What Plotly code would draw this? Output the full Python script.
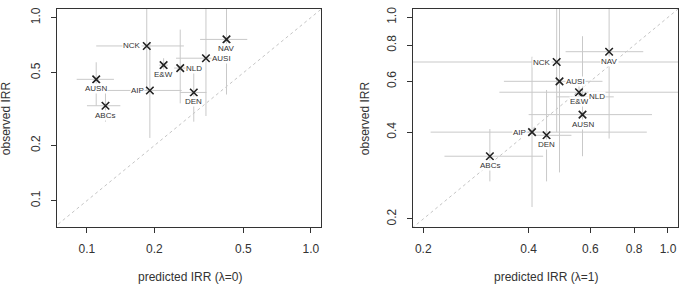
import numpy as np
import plotly.graph_objects as go

sites = ["NCK", "NAV", "AUSI", "E&W", "NLD", "AUSN", "AIP", "DEN", "ABCs"]
label_pos = ["left", "below", "right", "below", "right", "below", "left", "below", "below"]

# observed IRR (same in both panels) with CI
obs = [0.70, 0.76, 0.60, 0.55, 0.53, 0.46, 0.40, 0.39, 0.33]
obs_lo = [0.40, 0.38, 0.29, 0.50, 0.34, 0.33, 0.22, 0.27, 0.27]
obs_hi = [1.50, 1.50, 1.50, 0.60, 0.86, 0.57, 0.73, 0.56, 0.41]

# predicted IRR (lambda = 0)
pred0 = [0.185, 0.42, 0.34, 0.22, 0.261, 0.110, 0.191, 0.30, 0.121]
pred0_lo = [0.110, 0.32, 0.25, 0.21, 0.245, 0.090, 0.116, 0.26, 0.100]
pred0_hi = [0.271, 0.52, 0.40, 0.23, 0.280, 0.132, 0.265, 0.342, 0.141]

# predicted IRR (lambda = 1)
pred1 = [0.481, 0.679, 0.490, 0.557, 0.570, 0.570, 0.409, 0.450, 0.310]
pred1_lo = [0.15, 0.51, 0.34, 0.33, 0.48, 0.40, 0.21, 0.42, 0.23]
pred1_hi = [1.20, 0.85, 0.65, 1.10, 0.70, 0.90, 0.87, 0.53, 0.44]

ticks_left = [0.1, 0.2, 0.5, 1.0]
ticks_right = [0.2, 0.4, 0.6, 0.8, 1.0]
tick_text = lambda v: ["%.1f" % t for t in v]

FONT = "Liberation Sans, Arial, sans-serif"
GRAY = "#c9c9c9"
DARK = "#333333"

fig = go.Figure()

panels = [
    ("x", "y", pred0, pred0_lo, pred0_hi),
    ("x2", "y2", pred1, pred1_lo, pred1_hi),
]

obs_a = np.array(obs)
for xa, ya, px, plo, phi in panels:
    px_a = np.array(px)
    # identity line
    fig.add_trace(go.Scatter(
        x=[0.01, 10], y=[0.01, 10], mode="lines", xaxis=xa, yaxis=ya,
        line=dict(color="#c4c4c4", width=1, dash="dot"), hoverinfo="skip",
        showlegend=False))
    fig.add_trace(go.Scatter(
        x=px, y=obs, mode="markers", xaxis=xa, yaxis=ya, showlegend=False,
        marker=dict(symbol="x-thin", size=7.5, color="#222",
                    line=dict(width=1.6, color="#222")),
        error_x=dict(type="data", symmetric=False,
                     array=list(np.array(phi) - px_a),
                     arrayminus=list(px_a - np.array(plo)),
                     color=GRAY, thickness=1, width=0),
        error_y=dict(type="data", symmetric=False,
                     array=list(np.array(obs_hi) - obs_a),
                     arrayminus=list(obs_a - np.array(obs_lo)),
                     color=GRAY, thickness=1, width=0),
    ))
    for s, pos, xv, yv in zip(sites, label_pos, px, obs):
        kw = dict(x=np.log10(xv), y=np.log10(yv), xref=xa, yref=ya, text=s,
                  showarrow=False, bgcolor="white", borderpad=0,
                  font=dict(family=FONT, size=8, color=DARK))
        if pos == "left":
            kw.update(xanchor="right", yanchor="middle", xshift=-5)
        elif pos == "right":
            kw.update(xanchor="left", yanchor="middle", xshift=5)
        else:
            kw.update(xanchor="center", yanchor="top", yshift=-4)
        fig.add_annotation(**kw)

axis_common = dict(
    type="log", showgrid=False, zeroline=False, showline=True, mirror=True,
    linecolor=DARK, linewidth=1, ticks="outside", ticklen=5, tickwidth=1,
    tickcolor=DARK, tickfont=dict(family=FONT, size=12, color=DARK),
)

fig.update_layout(
    width=685, height=285, margin=dict(l=0, r=0, t=0, b=0),
    paper_bgcolor="white", plot_bgcolor="white",
    xaxis=dict(domain=[57 / 685, 321 / 685], range=[np.log10(0.0735), np.log10(1.11)],
               tickvals=ticks_left, ticktext=tick_text(ticks_left), anchor="y",
               ticklabelstandoff=5, **axis_common),
    yaxis=dict(domain=[1 - 227 / 285, 1 - 7 / 285], range=[np.log10(0.0714), np.log10(1.115)],
               tickvals=ticks_left, ticktext=tick_text(ticks_left), anchor="x",
               tickangle=-90, ticklabelstandoff=6, **axis_common),
    xaxis2=dict(domain=[413 / 685, 678 / 685], range=[np.log10(0.187), np.log10(1.068)],
                tickvals=ticks_right, ticktext=tick_text(ticks_right), anchor="y2",
                ticklabelstandoff=5, **axis_common),
    yaxis2=dict(domain=[1 - 227 / 285, 1 - 7 / 285], range=[np.log10(0.187), np.log10(1.069)],
                tickvals=ticks_right, ticktext=tick_text(ticks_right), anchor="x2",
                tickangle=-90, ticklabelstandoff=6, **axis_common),
)

title_font = dict(family=FONT, size=12, color=DARK)
for txt, x in [("predicted IRR (λ=0)", 190 / 685), ("predicted IRR (λ=1)", 546 / 685)]:
    fig.add_annotation(text=txt, x=x, y=1 - 277 / 285, xref="paper", yref="paper",
                       showarrow=False, font=title_font, xanchor="center", yanchor="middle")
for x in [6 / 685, 365 / 685]:
    fig.add_annotation(text="observed IRR", x=x, y=1 - 117 / 285, xref="paper", yref="paper",
                       showarrow=False, font=title_font, textangle=-90,
                       xanchor="center", yanchor="middle")

fig.write_html("out.html")
